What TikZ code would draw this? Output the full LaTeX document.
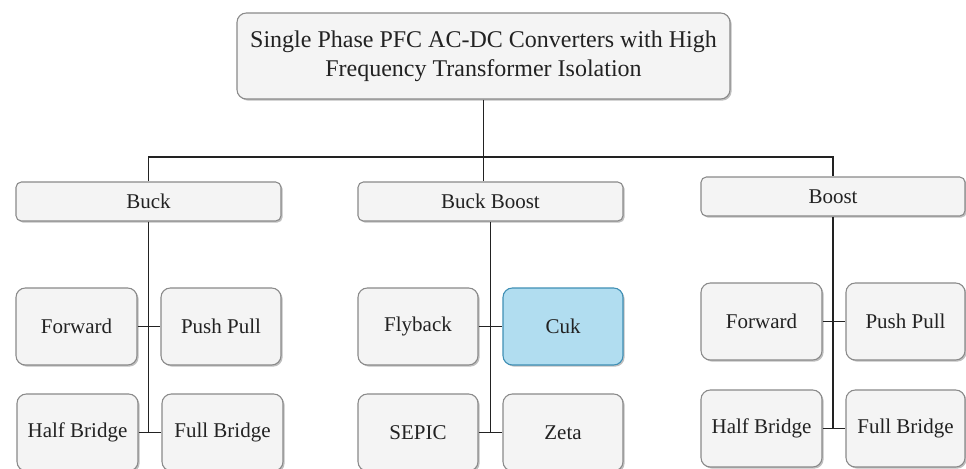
\documentclass[tikz,border=0pt]{standalone}
\usepackage{fontspec}
\setmainfont{Liberation Serif}
\usetikzlibrary{shadows}
\definecolor{boxfill}{HTML}{F4F4F4}
\definecolor{boxline}{HTML}{8A8A8A}
\definecolor{hifill}{HTML}{B1DDF0}
\definecolor{hiline}{HTML}{3F8FB5}
\definecolor{wire}{HTML}{222222}
\definecolor{ink}{HTML}{222222}
% box given by its pixel corners: [options]{name}{x1}{y1}{x2}{y2}{text}
\newcommand\pxbox[7][]{%
  \pgfmathsetmacro\bxcx{(#3+#5)/2}%
  \pgfmathsetmacro\bxcy{(#4+#6)/2}%
  \pgfmathsetmacro\bxw{(#5-#3)*0.75}%
  \pgfmathsetmacro\bxh{(#6-#4)*0.75}%
  \node[box,#1,minimum width=\bxw pt,minimum height=\bxh pt] (#2) at (\bxcx,\bxcy) {#7};}
\begin{document}
\begin{tikzpicture}[x=0.75pt,y=-0.75pt,
  box/.style={draw=boxline,fill=boxfill,line width=0.8pt,rounded corners=7pt,
    inner sep=0pt,align=center,text=ink,
    font=\fontsize{15.75}{21.75}\selectfont,
    drop shadow={opacity=0.25,shadow xshift=1.2pt,shadow yshift=-1.2pt,fill=black}},
  rootbox/.style={font=\fontsize{18}{21.75}\selectfont},
  catbox/.style={rounded corners=4pt},
  hibox/.style={fill=hifill,draw=hiline},
  wireline/.style={draw=wire,line width=0.9pt}]
\useasboundingbox (0,0) rectangle (966,468);
\fill[white] (0,0) rectangle (966,468);

% root
\pxbox[rootbox]{root}{237}{13}{730}{99}{Single Phase PFC AC-DC Converters with High\\Frequency Transformer Isolation}

% categories
\pxbox[catbox]{buck}{16}{182}{281}{221}{Buck}
\pxbox[catbox]{bb}{358}{182}{623}{221}{Buck Boost}
\pxbox[catbox]{boost}{701}{177}{965}{216}{Boost}

% buck topologies
\pxbox{bfw}{16}{288}{137}{365}{Forward}
\pxbox{bpp}{161}{288}{281}{365}{Push Pull}
\pxbox{bhb}{17}{394}{138}{471}{Half Bridge}
\pxbox{bfb}{162}{394}{283}{471}{Full Bridge}

% buck-boost topologies
\pxbox{fly}{358}{288}{478}{365}{Flyback}
\pxbox[hibox]{cuk}{503}{288}{623}{365}{Cuk}
\pxbox{sepic}{358}{394}{478}{471}{SEPIC}
\pxbox{zeta}{503}{394}{623}{471}{Zeta}

% boost topologies
\pxbox{sfw}{701}{283}{822}{360}{Forward}
\pxbox{spp}{846}{283}{965}{360}{Push Pull}
\pxbox{shb}{701}{390}{822}{467}{Half Bridge}
\pxbox{sfb}{846}{390}{965}{467}{Full Bridge}

% root to categories
\coordinate (split) at (root.south |- 0,157);
\draw[wireline] (root.south) -- (root.south |- bb.north);
\draw[wireline] (split) -| (buck.north);
\draw[wireline] (split) -| (boost.north);

% category spines
\draw[wireline] (buck.south) -- (buck.south |- bhb.east);
\draw[wireline] (bb.south) -- (bb.south |- sepic.east);
\draw[wireline] (boost.south) -- (boost.south |- shb.east);

% pairs
\draw[wireline] (bfw.east) -- (bpp.west);
\draw[wireline] (bhb.east) -- (bfb.west);
\draw[wireline] (fly.east) -- (cuk.west);
\draw[wireline] (sepic.east) -- (zeta.west);
\draw[wireline] (sfw.east) -- (spp.west);
\draw[wireline] (shb.east) -- (sfb.west);
\end{tikzpicture}
\end{document}
